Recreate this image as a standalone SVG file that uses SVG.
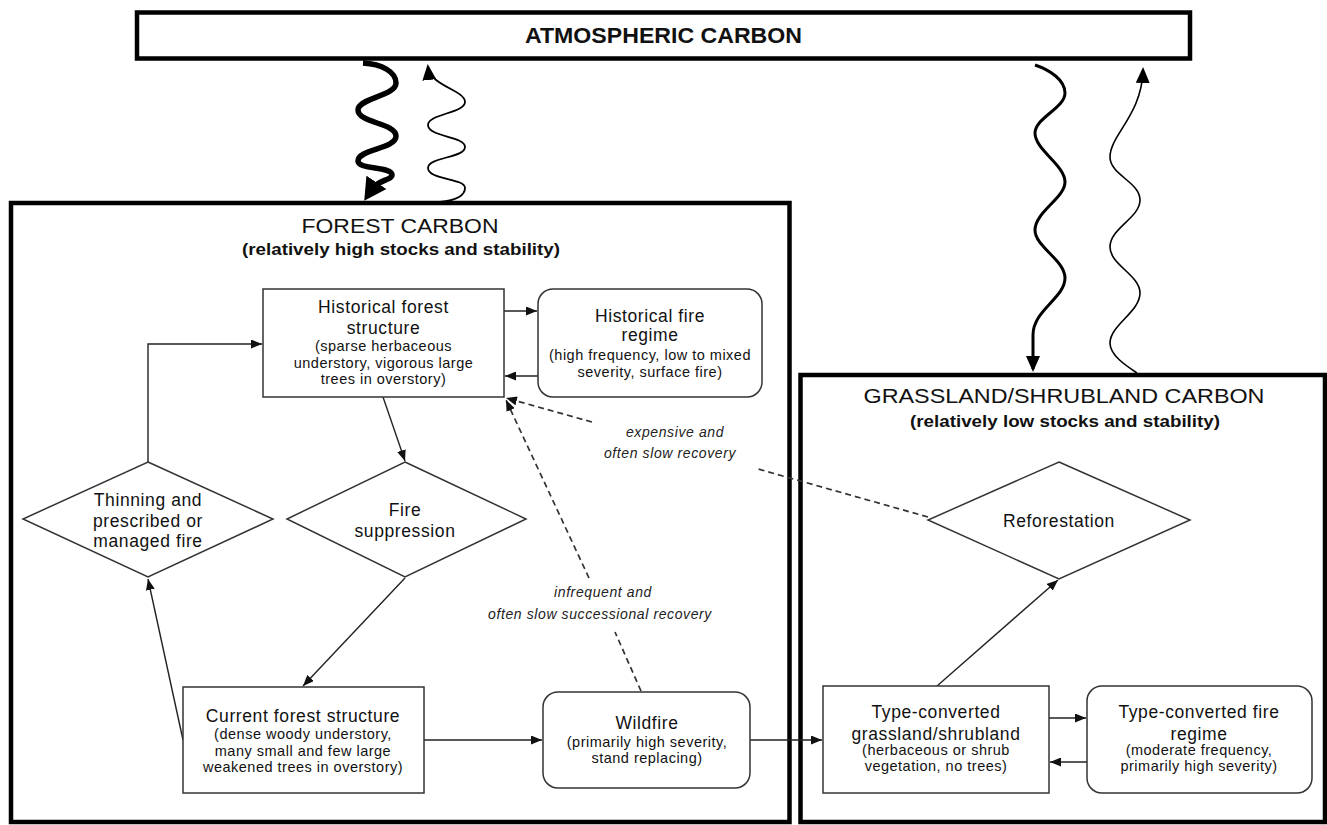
<svg xmlns="http://www.w3.org/2000/svg" width="1327" height="825" viewBox="0 0 1327 825">
<defs>
<style>
.big{fill:#fff;stroke:#000;stroke-width:4.5}
.box{fill:#fff;stroke:#333;stroke-width:1.5}
.t{font-family:"Liberation Sans",Arial,sans-serif;fill:#111;text-anchor:middle}
.t1{font-size:17.5px;letter-spacing:0.6px}
.t2{font-size:14.5px;letter-spacing:0.5px}
.it{font-family:"Liberation Sans",Arial,sans-serif;fill:#222;text-anchor:middle;font-style:italic;font-size:14px;letter-spacing:0.6px}
.ln{stroke:#222;stroke-width:1.4;fill:none}
.dash{stroke:#333;stroke-width:1.7;stroke-dasharray:6 4;fill:none}
.wave{fill:none;stroke:#000}
</style>
<marker id="a" markerUnits="userSpaceOnUse" markerWidth="11" markerHeight="9" refX="11" refY="4.5" orient="auto"><path d="M0,0 L11,4.5 L0,9 z" fill="#111"/></marker>
<marker id="aBig" markerUnits="userSpaceOnUse" markerWidth="22" markerHeight="24" refX="8" refY="12" orient="auto"><path d="M0,0 L22,12 L0,24 z" fill="#000"/></marker>
<marker id="aMed" markerUnits="userSpaceOnUse" markerWidth="16" markerHeight="14" refX="13" refY="7" orient="auto"><path d="M0,0 L16,7 L0,14 z" fill="#000"/></marker>
</defs>
<rect width="1327" height="825" fill="#fff"/>

<g id="atmospheric">
<rect class="big" x="137" y="12.5" width="1053" height="46" stroke-width="5"/>
<text class="t" x="663.5" y="43" font-size="22" font-weight="bold" textLength="277" lengthAdjust="spacingAndGlyphs">ATMOSPHERIC CARBON</text>
</g>

<g id="forest-carbon">
<rect class="big" x="11" y="203" width="778.5" height="619"/>
<text class="t" x="400" y="233" font-size="20" textLength="197" lengthAdjust="spacingAndGlyphs">FOREST CARBON</text>
<text class="t" x="401" y="255" font-size="16" font-weight="bold" textLength="318" lengthAdjust="spacingAndGlyphs">(relatively high stocks and stability)</text>
</g>

<g id="grassland-carbon">
<rect class="big" x="800.5" y="375" width="524.5" height="447"/>
<text class="t" x="1064" y="403" font-size="21" textLength="401" lengthAdjust="spacingAndGlyphs">GRASSLAND/SHRUBLAND CARBON</text>
<text class="t" x="1065" y="427" font-size="16" font-weight="bold" textLength="310" lengthAdjust="spacingAndGlyphs">(relatively low stocks and stability)</text>
</g>

<g id="connectors">
<path class="wave" stroke-width="5.5" marker-end="url(#aBig)" d="M363,63 C382,64 396,72 396,83 C396,96 358,98 358,110 C358,123 396,123 396,136 C396,149 358,149 358,161 C358,170 392,166 392,175 C392,180 378,180 372,189"/>
<path class="wave" stroke-width="1.8" marker-end="url(#aMed)" d="M440,202 C458,200 465,195 465,188 C465,178 428,180 428,168 C428,157 465,158 465,147 C465,136 428,137 428,125 C428,114 465,113 465,102 C465,90 430,86 428,67"/>
<path class="wave" stroke-width="3" marker-end="url(#aMed)" d="M1035,65 C1050,70 1065,80 1065,93 C1065,108 1035,118 1035,133 C1035,150 1065,165 1065,182 C1065,198 1035,212 1035,230 C1035,247 1065,260 1065,278 C1065,298 1033,310 1033,335 L1033,369"/>
<path class="wave" stroke-width="1.6" marker-end="url(#aMed)" d="M1137,373 C1125,365 1110,355 1110,343 C1110,325 1140,312 1140,293 C1140,275 1110,265 1110,247 C1110,228 1140,218 1140,200 C1140,182 1110,175 1110,157 C1110,135 1142,115 1143,70"/>
<path class="ln" marker-end="url(#a)" d="M148,462 L148,344 L262,344"/>
<path class="ln" marker-end="url(#a)" d="M383,397 L405,461"/>
<path class="ln" marker-end="url(#a)" d="M504,311 L537,311"/>
<path class="ln" marker-end="url(#a)" d="M538,376 L505,376"/>
<path class="ln" marker-end="url(#a)" d="M405,578 L303,686"/>
<path class="ln" marker-end="url(#a)" d="M183,740 L148,579"/>
<path class="ln" marker-end="url(#a)" d="M424,740 L542,740"/>
<path class="ln" marker-end="url(#a)" d="M750,740 L822,740"/>
<path class="ln" marker-end="url(#a)" d="M1049,718 L1086,718"/>
<path class="ln" marker-end="url(#a)" d="M1087,762 L1050,762"/>
<path class="ln" marker-end="url(#a)" d="M937,686 L1058,580"/>
<path class="dash" d="M928,517 L758,469"/>
<path class="dash" marker-end="url(#a)" d="M592,422 L506,398"/>
<path class="dash" d="M641,691 L615,632"/>
<path class="dash" marker-end="url(#a)" d="M589,578 L506,400"/>
<text class="it" x="675" y="437">expensive and</text>
<text class="it" x="670" y="458">often slow recovery</text>
<text class="it" x="603" y="597">infrequent and</text>
<text class="it" x="600" y="619">often slow successional recovery</text>
</g>

<g id="historical-forest-structure">
<rect class="box" x="263" y="289" width="241" height="108"/>
<text class="t t1" x="383.5" y="313">Historical forest</text>
<text class="t t1" x="383.5" y="334">structure</text>
<text class="t t2" x="383.5" y="351">(sparse herbaceous</text>
<text class="t t2" x="383.5" y="368">understory, vigorous large</text>
<text class="t t2" x="383.5" y="384">trees in overstory)</text>
</g>

<g id="historical-fire-regime">
<rect class="box" x="538" y="289" width="224" height="108" rx="15"/>
<text class="t t1" x="650" y="322">Historical fire</text>
<text class="t t1" x="650" y="341">regime</text>
<text class="t t2" x="650" y="360">(high frequency, low to mixed</text>
<text class="t t2" x="650" y="377">severity, surface fire)</text>
</g>

<g id="thinning">
<polygon class="box" points="148,462 273,519 148,577 23,519"/>
<text class="t t1" x="148" y="506">Thinning and</text>
<text class="t t1" x="148" y="527">prescribed or</text>
<text class="t t1" x="148" y="547">managed fire</text>
</g>

<g id="fire-suppression">
<polygon class="box" points="405,462 526,519 405,577 287,519"/>
<text class="t t1" x="405" y="516">Fire</text>
<text class="t t1" x="405" y="537">suppression</text>
</g>

<g id="current-forest-structure">
<rect class="box" x="183" y="687" width="241" height="106"/>
<text class="t t1" x="303" y="722">Current forest structure</text>
<text class="t t2" x="303" y="739">(dense woody understory,</text>
<text class="t t2" x="303" y="756">many small and few large</text>
<text class="t t2" x="303" y="772">weakened trees in overstory)</text>
</g>

<g id="wildfire">
<rect class="box" x="543" y="692" width="207" height="96" rx="15"/>
<text class="t t1" x="647" y="729">Wildfire</text>
<text class="t t2" x="647" y="747">(primarily high severity,</text>
<text class="t t2" x="647" y="763">stand replacing)</text>
</g>

<g id="reforestation">
<polygon class="box" points="1059,462 1190,520 1059,579 928,520"/>
<text class="t t1" x="1059" y="527">Reforestation</text>
</g>

<g id="type-converted-grassland">
<rect class="box" x="823" y="686" width="226" height="107"/>
<text class="t t1" x="936" y="718">Type-converted</text>
<text class="t t1" x="936" y="740">grassland/shrubland</text>
<text class="t t2" x="936" y="755">(herbaceous or shrub</text>
<text class="t t2" x="936" y="771">vegetation, no trees)</text>
</g>

<g id="type-converted-fire-regime">
<rect class="box" x="1087" y="686" width="225" height="107" rx="15"/>
<text class="t t1" x="1199" y="718">Type-converted fire</text>
<text class="t t1" x="1199" y="740">regime</text>
<text class="t t2" x="1199" y="755">(moderate frequency,</text>
<text class="t t2" x="1199" y="771">primarily high severity)</text>
</g>
</svg>
